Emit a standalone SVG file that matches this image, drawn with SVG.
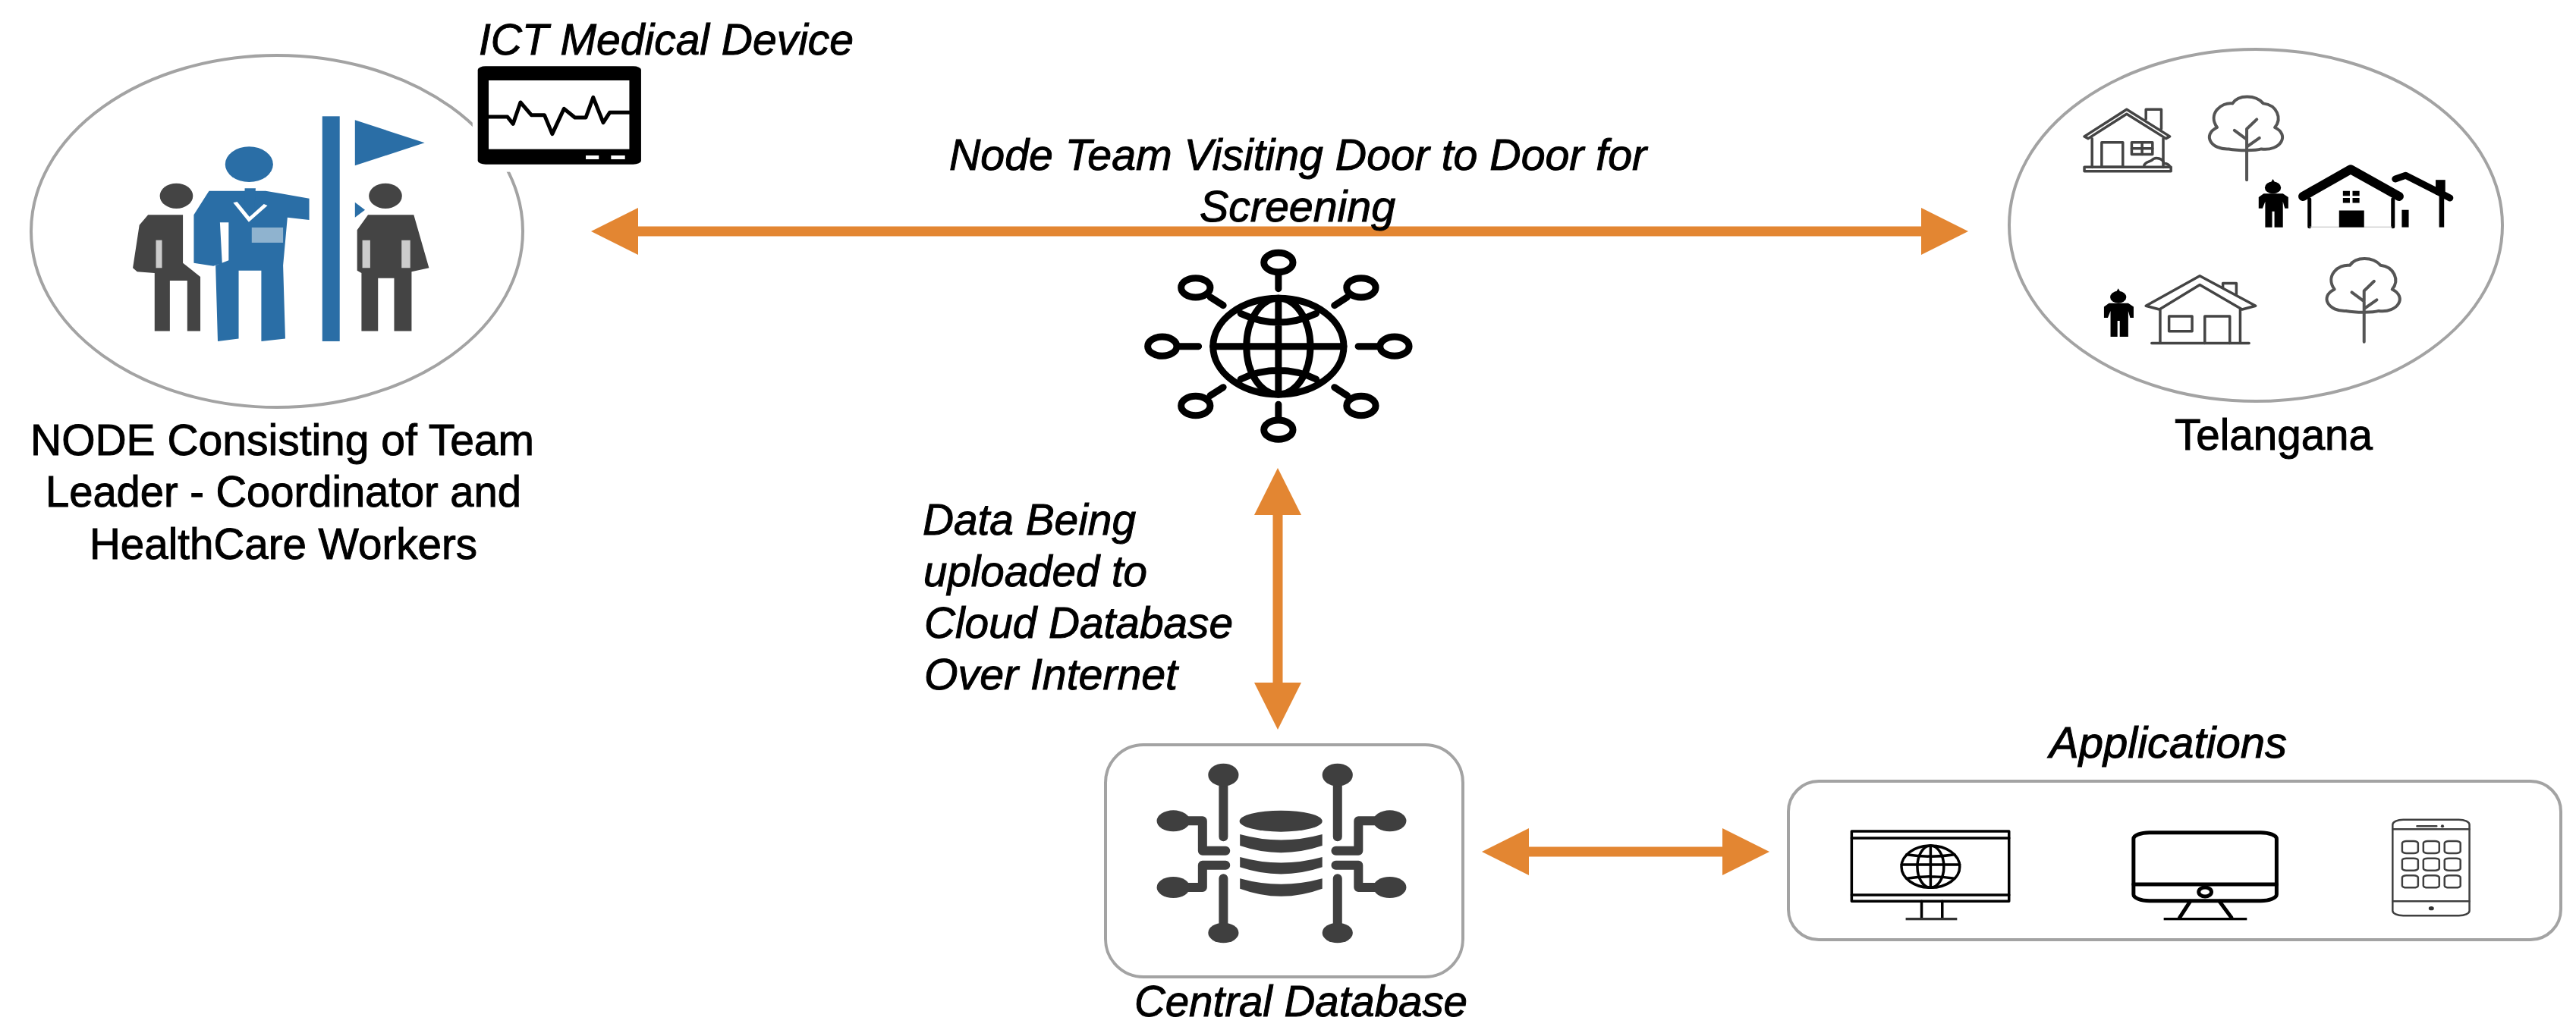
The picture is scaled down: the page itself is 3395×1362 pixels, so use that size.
<svg xmlns="http://www.w3.org/2000/svg" xmlns:xlink="http://www.w3.org/1999/xlink" width="3395" height="1362" viewBox="0 0 3395 1362">
<style>
text{font-family:"Liberation Sans",Arial,sans-serif;font-size:58px;fill:#000;stroke:#000;stroke-width:1}
.i{font-style:italic}
.frame{fill:#fff;stroke:#a3a3a3;stroke-width:4}
.conn{stroke:#e38632;stroke-width:13;fill:none;marker-start:url(#head);marker-end:url(#head)}
.s,.s *{fill:none;vector-effect:non-scaling-stroke;stroke-linecap:round;stroke-linejoin:round}
.k{stroke:#000}
.d{stroke:#3f3f3f}
.g{stroke:#444}
.t{stroke:#555}
.blue{fill:#2a6ea6}
.grey{fill:#444}
.db{fill:#3f3f3f}
.w2{stroke-width:2.5}
.w3{stroke-width:3.5}
.w4{stroke-width:4}
.w5{stroke-width:5}
.w9{stroke-width:9}
.w12{stroke-width:12}
</style>
<defs>
<marker id="head" viewBox="0 -31 62 62" markerWidth="62" markerHeight="62" refX="0" refY="0" markerUnits="userSpaceOnUse" orient="auto-start-reverse"><path d="M0,-31L62,0L0,31Z" fill="#e38632"/></marker>
<g id="tree">
<path class="s t w4" d="M665,497C620,500 595,450 635,425C610,380 645,340 675,345C690,315 735,315 755,345C790,350 805,395 785,425C825,450 800,505 750,497C735,503 690,503 665,497Z"/>
<path class="s t w4" d="M712,600V430M712,490L745,460M712,465L680,435M712,430L738,398"/>
</g>
<g id="person" fill="#000">
<path d="M780,597L786,610H774Z"/>
<ellipse cx="780" cy="626" rx="21" ry="20"/>
<path d="M756,646H806L820,658V695H811L806,672V758H784V705H778V758H760V672L753,695H743V658Z"/>
</g>
</defs>
<rect width="3395" height="1362" fill="#fff"/>

<g id="connectors">
<line class="conn" x1="841" y1="305" x2="2532" y2="305"/>
<line class="conn" x1="1684" y1="679" x2="1684" y2="900"/>
<line class="conn" x1="2015" y1="1123" x2="2270" y2="1123"/>
</g>

<g id="node-team">
<ellipse class="frame" cx="365" cy="305" rx="324" ry="232"/>
<g transform="scale(.574,.3333)">
<rect class="blue" x="740" y="460" width="40" height="890"/>
<path class="blue" d="M815,475L975,565L815,655Z"/>
<path class="blue" d="M815,800L838,830L815,860Z"/>
<ellipse class="blue" cx="572" cy="650" rx="55" ry="70"/>
<path class="blue" d="M480,755H610L710,785V870L660,860L650,1050L655,1340L600,1350V1070H548V1340L500,1350L495,1050L525,1030V880H505L510,1040L490,1052L445,1040V850Z"/>
<path d="M540,800L572,868L610,810" fill="none" stroke="#fff" stroke-width="10"/>
<path class="blue" d="M562,745H587L584,830L572,848L561,830Z"/>
<rect x="578" y="900" width="72" height="60" fill="#8fb3cf"/>
<ellipse class="grey" cx="405" cy="775" rx="38" ry="50"/>
<path class="grey" d="M340,850H420V1040L460,1095V1310H430V1110H390V1310H355V1080L315,1075L305,1060L320,890Z"/>
<path d="M358,950H372V1060H358Z" fill="#ccc"/>
<ellipse class="grey" cx="885" cy="775" rx="38" ry="50"/>
<path class="grey" d="M845,850H950L985,1060L945,1075V1310H905V1100H868V1310H830V1080L820,1070V910Z"/>
<path d="M832,950H850V1060H832ZM922,950H942V1060H922Z" fill="#ccc"/>
</g>
<text x="40" y="600" textLength="664" lengthAdjust="spacingAndGlyphs">NODE Consisting of Team</text>
<text x="60" y="668" textLength="627" lengthAdjust="spacingAndGlyphs">Leader - Coordinator and</text>
<text x="118" y="737" textLength="511" lengthAdjust="spacingAndGlyphs">HealthCare Workers</text>
</g>

<g id="ict-device">
<g transform="scale(.574,.3333)">
<rect x="1085" y="250" width="400" height="430" fill="#fff"/>
<rect x="1097" y="262" width="375" height="388" rx="18" ry="14" fill="#000"/>
<rect x="1122" y="318" width="323" height="272" fill="#fff"/>
<rect x="1345" y="615" width="30" height="15" fill="#fff"/>
<rect x="1403" y="615" width="32" height="15" fill="#fff"/>
<path class="s k w5" d="M1122,462H1165L1178,490L1195,405L1220,455H1250L1268,530L1295,430L1320,465H1345L1362,385L1385,485L1400,445H1445"/>
</g>
<text class="i" x="631" y="72" textLength="494" lengthAdjust="spacingAndGlyphs">ICT Medical Device</text>
</g>

<g id="telangana">
<ellipse class="frame" cx="2973" cy="297" rx="325" ry="232"/>
<g transform="translate(2600,0) scale(.5071,.3953)">
<path class="s g w3" d="M290,455L400,365L512,455L502,462L400,380L300,462ZM450,397V365H490V430M310,462V558M495,462V558"/>
<rect class="s g w3" x="335" y="475" width="55" height="82"/>
<rect class="s g w3" x="413" y="475" width="54" height="40"/>
<path class="s g w3" d="M440,475V515M413,495H467M445,555C445,540 460,540 465,535C475,520 495,530 497,545C505,545 510,550 512,555"/>
<rect class="s g w3" x="290" y="557" width="225" height="14"/>
<use xlink:href="#tree" href="#tree"/>
<use xlink:href="#tree" href="#tree" transform="translate(305,540)"/>
<use xlink:href="#person" href="#person"/>
<use xlink:href="#person" href="#person" transform="translate(-402,365)"/>
<path class="s k w12" d="M858,655L982,565L1108,655"/>
<path class="s k w5" d="M875,665V756M1092,665V756"/>
<path d="M875,757H1090" stroke="#bbb" stroke-width="2"/>
<rect x="952" y="702" width="65" height="56" fill="#000"/>
<path d="M962,637H980V653H962ZM987,637H1005V653H987ZM962,660H980V677H962ZM987,660H1005V677H987Z" fill="#000"/>
<path class="s k w9" d="M1098,597L1125,585L1240,660"/>
<rect x="1203" y="600" width="25" height="50" fill="#000"/>
<rect x="1212" y="650" width="13" height="108" fill="#000"/>
<rect x="1115" y="700" width="18" height="58" fill="#000"/>
<path class="s g w3" d="M450,1020L590,920L735,1020L700,1032L590,950L485,1032ZM650,960V945H685V985M487,1030V1145M695,1030V1145M465,1145H718"/>
<rect class="s g w3" x="510" y="1055" width="60" height="50"/>
<path class="s g w3" d="M603,1145V1055H668V1145"/>
</g>
<text x="2866" y="593" textLength="261" lengthAdjust="spacingAndGlyphs">Telangana</text>
</g>

<g id="internet">
<g transform="translate(1350,250) scale(.3827,.3333)">
<g class="s k w9">
<ellipse cx="875" cy="620" rx="225" ry="190"/>
<ellipse cx="875" cy="620" rx="110" ry="190"/>
<path d="M875,430V810M650,620H1100M745,490Q875,560 1005,490M745,750Q875,680 1005,750"/>
<ellipse cx="875" cy="288" rx="50" ry="38"/>
<ellipse cx="475" cy="620" rx="50" ry="38"/>
<ellipse cx="1275" cy="620" rx="50" ry="38"/>
<ellipse cx="875" cy="950" rx="50" ry="38"/>
<ellipse cx="590" cy="388" rx="50" ry="38"/>
<ellipse cx="1160" cy="388" rx="50" ry="38"/>
<ellipse cx="590" cy="855" rx="50" ry="38"/>
<ellipse cx="1160" cy="855" rx="50" ry="38"/>
<path d="M875,330V392M530,620H600M1150,620H1220M875,850V905M640,425L685,458M1112,425L1068,458M640,815L685,782M1112,815L1068,782"/>
</g>
</g>
</g>

<text class="i" x="1251" y="224" textLength="919" lengthAdjust="spacingAndGlyphs">Node Team Visiting Door to Door for</text>
<text class="i" x="1581" y="292" textLength="258" lengthAdjust="spacingAndGlyphs">Screening</text>
<text class="i" x="1216" y="705" textLength="281" lengthAdjust="spacingAndGlyphs">Data Being</text>
<text class="i" x="1217" y="773" textLength="295" lengthAdjust="spacingAndGlyphs">uploaded to</text>
<text class="i" x="1218" y="841" textLength="407" lengthAdjust="spacingAndGlyphs">Cloud Database</text>
<text class="i" x="1218" y="909" textLength="334" lengthAdjust="spacingAndGlyphs">Over Internet</text>

<g id="central-database">
<rect class="frame" x="1457" y="982" width="471" height="306" rx="50" ry="50"/>
<g transform="translate(1400,950) scale(.574,.3333)">
<ellipse class="db" cx="502" cy="398" rx="95" ry="42"/>
<path class="db" d="M408,450Q502,495 597,450V495Q502,550 408,495Z"/>
<path class="db" d="M408,540Q502,585 597,540V580Q502,635 408,580Z"/>
<path class="db" d="M408,625Q502,670 597,625V665Q502,725 408,665Z"/>
<g class="s d w12">
<path d="M370,230V460M632,230V460M370,625V820M632,625V820"/>
<path d="M255,397H322V515H375M752,397H680V515H628M255,660H322V572H375M752,660H680V572H628"/>
</g>
<ellipse class="db" cx="370" cy="215" rx="35" ry="45"/>
<ellipse class="db" cx="632" cy="215" rx="35" ry="45"/>
<ellipse class="db" cx="370" cy="840" rx="35" ry="40"/>
<ellipse class="db" cx="632" cy="840" rx="35" ry="40"/>
<ellipse class="db" cx="255" cy="397" rx="38" ry="42"/>
<ellipse class="db" cx="752" cy="397" rx="38" ry="42"/>
<ellipse class="db" cx="255" cy="660" rx="38" ry="42"/>
<ellipse class="db" cx="752" cy="660" rx="38" ry="42"/>
</g>
<text class="i" x="1495" y="1340" textLength="439" lengthAdjust="spacingAndGlyphs">Central Database</text>
</g>

<g id="applications">
<rect class="frame" x="2357" y="1030" width="1018" height="209" rx="40" ry="40"/>
<g transform="translate(2300,930) scale(.6983,.3333)">
<g class="s k w3">
<rect x="201" y="498" width="297" height="277"/>
<path d="M201,525H498M201,750H498M333,775V842M372,775V842"/>
<ellipse cx="350" cy="638" rx="55" ry="83"/>
<ellipse cx="350" cy="638" rx="25" ry="83"/>
<path d="M350,555V721M295,630H405M305,590Q350,605 395,590M305,685Q350,670 395,685"/>
</g>
<rect x="303" y="840" width="97" height="10" fill="#333"/>
<g class="s k w5">
<rect x="733" y="503" width="270" height="270" rx="30" ry="25"/>
<path d="M733,708H1003M840,775L820,840M895,775L918,840"/>
<ellipse cx="868" cy="738" rx="12" ry="18"/>
</g>
<rect x="790" y="840" width="157" height="10" fill="#000"/>
<g class="s d w2">
<rect x="1222" y="452" width="145" height="380" rx="20" ry="20"/>
<path d="M1222,490H1367M1222,775H1367M1268,478H1305"/>
<rect x="1240" y="537" width="30" height="48" rx="8"/>
<rect x="1280" y="537" width="30" height="48" rx="8"/>
<rect x="1320" y="537" width="30" height="48" rx="8"/>
<rect x="1240" y="605" width="30" height="48" rx="8"/>
<rect x="1280" y="605" width="30" height="48" rx="8"/>
<rect x="1320" y="605" width="30" height="48" rx="8"/>
<rect x="1240" y="673" width="30" height="48" rx="8"/>
<rect x="1280" y="673" width="30" height="48" rx="8"/>
<rect x="1320" y="673" width="30" height="48" rx="8"/>
</g>
<ellipse cx="1316" cy="478" rx="3" ry="6" fill="#333"/>
<ellipse cx="1295" cy="803" rx="5" ry="8" fill="#333"/>
</g>
<text class="i" x="2701" y="999" textLength="313" lengthAdjust="spacingAndGlyphs">Applications</text>
</g>
</svg>
